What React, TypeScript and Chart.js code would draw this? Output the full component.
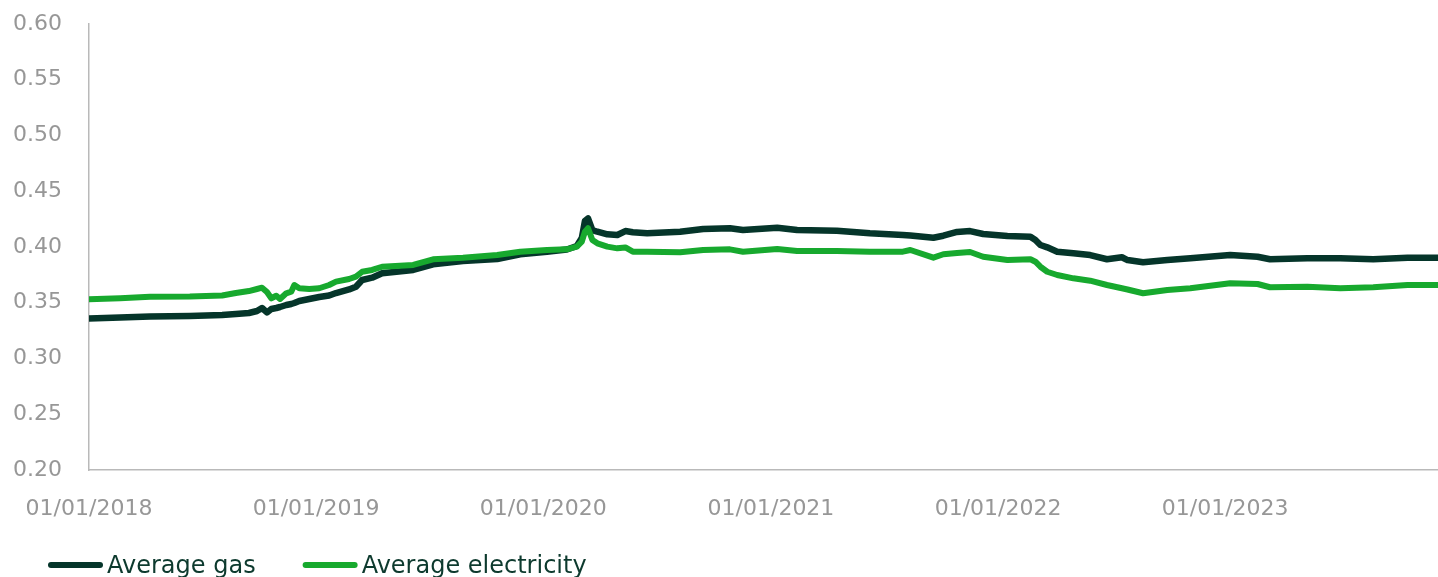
import React, { useEffect, useRef } from "react";
import { Chart, registerables } from "chart.js";

Chart.register(...registerables);

// Observation dates for both series
const dates = [
  "2018-01-01", "2018-02-20", "2018-04-09", "2018-06-12", "2018-08-03", "2018-08-25",
  "2018-09-15", "2018-09-28", "2018-10-06", "2018-10-14", "2018-10-21", "2018-10-29",
  "2018-11-04", "2018-11-14", "2018-11-22", "2018-11-27", "2018-12-05", "2018-12-21",
  "2019-01-06", "2019-01-22", "2019-02-02", "2019-02-23", "2019-03-06", "2019-03-16",
  "2019-04-01", "2019-04-17", "2019-06-06", "2019-07-08", "2019-08-25", "2019-10-19",
  "2019-11-25", "2020-01-07", "2020-02-08", "2020-02-24", "2020-03-03", "2020-03-08",
  "2020-03-13", "2020-03-20", "2020-03-28", "2020-04-13", "2020-04-29", "2020-05-12",
  "2020-05-24", "2020-06-16", "2020-08-08", "2020-09-14", "2020-10-27", "2020-11-17",
  "2021-01-11", "2021-02-12", "2021-04-17", "2021-06-09", "2021-08-01", "2021-08-13",
  "2021-09-19", "2021-10-05", "2021-10-27", "2021-11-17", "2021-12-08", "2022-01-16",
  "2022-02-22", "2022-03-02", "2022-03-10", "2022-03-21", "2022-04-06", "2022-05-02",
  "2022-05-29", "2022-06-25", "2022-07-19", "2022-07-28", "2022-08-22", "2022-09-30",
  "2022-11-06", "2023-01-09", "2023-02-22", "2023-03-14", "2023-05-13", "2023-07-05",
  "2023-08-27", "2023-10-21", "2023-12-09",
];

const gasValues = [
  0.3359, 0.3368, 0.3377, 0.3381, 0.3390, 0.3399,
  0.3408, 0.3426, 0.3453, 0.3413, 0.3444, 0.3453,
  0.3462, 0.3480, 0.3489, 0.3498, 0.3516, 0.3534,
  0.3552, 0.3565, 0.3587, 0.3619, 0.3644, 0.3704,
  0.3725, 0.3764, 0.3794, 0.3845, 0.3874, 0.3892,
  0.3935, 0.3958, 0.3978, 0.4009, 0.4081, 0.4233,
  0.4257, 0.4152, 0.4137, 0.4114, 0.4108, 0.4143,
  0.4132, 0.4123, 0.4137, 0.4161, 0.4168, 0.4152,
  0.4173, 0.4152, 0.4146, 0.4123, 0.4108, 0.4103,
  0.4083, 0.4101, 0.4135, 0.4143, 0.4117, 0.4099,
  0.4092, 0.4063, 0.4018, 0.3997, 0.3958, 0.3943,
  0.3928, 0.3890, 0.3908, 0.3883, 0.3863, 0.3883,
  0.3899, 0.3928, 0.3913, 0.3890, 0.3899, 0.3899,
  0.3890, 0.3904, 0.3904,
];

const electricityValues = [
  0.3531, 0.3540, 0.3554, 0.3556, 0.3565, 0.3587,
  0.3605, 0.3623, 0.3635, 0.3596, 0.3540, 0.3563,
  0.3534, 0.3585, 0.3599, 0.3659, 0.3630, 0.3623,
  0.3630, 0.3659, 0.3689, 0.3713, 0.3734, 0.3778,
  0.3794, 0.3823, 0.3839, 0.3890, 0.3904, 0.3928,
  0.3958, 0.3973, 0.3979, 0.4003, 0.4048, 0.4137,
  0.4168, 0.4063, 0.4033, 0.4003, 0.3988, 0.3996,
  0.3958, 0.3958, 0.3952, 0.3973, 0.3979, 0.3958,
  0.3982, 0.3964, 0.3964, 0.3958, 0.3958, 0.3973,
  0.3904, 0.3935, 0.3946, 0.3955, 0.3913, 0.3883,
  0.3890, 0.3868, 0.3823, 0.3778, 0.3749, 0.3719,
  0.3698, 0.3659, 0.3630, 0.3619, 0.3585, 0.3614,
  0.3630, 0.3675, 0.3668, 0.3639, 0.3644, 0.3630,
  0.3639, 0.3659, 0.3659,
];

const xTickDates = ["2018-01-01", "2019-01-01", "2020-01-01", "2021-01-01", "2022-01-01", "2023-01-01"];
const xTickLabels = ["01/01/2018", "01/01/2019", "01/01/2020", "01/01/2021", "01/01/2022", "01/01/2023"];

const GAS_COLOR = "#05352a";
const ELEC_COLOR = "#17a92e";
const LEGEND_TEXT = "#0d3a2e";
const TICK_COLOR = "#979797";
const AXIS_COLOR = "#b9b9b9";
const FONT = '"DejaVu Sans", sans-serif';

const ORIGIN = Date.UTC(2018, 0, 1);
const dayOf = (iso: string): number => {
  const [y, m, d] = iso.split("-").map(Number);
  return Math.round((Date.UTC(y, m - 1, d) - ORIGIN) / 86400000);
};

const toPoints = (values: number[]) => values.map((v, i) => ({ x: dayOf(dates[i]), y: v }));

// Legend drawn as short rounded strokes followed by the series name
const lineLegend = {
  id: "lineLegend",
  afterDraw(chart: any) {
    const ctx: CanvasRenderingContext2D = chart.ctx;
    const lineLen = 49;
    const lineW = 6;
    const y = 565;
    let x = 51;
    ctx.save();
    ctx.font = `24px ${FONT}`;
    ctx.textBaseline = "alphabetic";
    ctx.textAlign = "left";
    chart.data.datasets.forEach((ds: any) => {
      ctx.strokeStyle = ds.borderColor;
      ctx.lineWidth = lineW;
      ctx.lineCap = "round";
      ctx.beginPath();
      ctx.moveTo(x, y);
      ctx.lineTo(x + lineLen, y);
      ctx.stroke();
      const tx = x + lineLen + 7;
      ctx.fillStyle = LEGEND_TEXT;
      ctx.fillText(ds.label, tx, 573);
      x = tx + ctx.measureText(ds.label).width + 50;
    });
    ctx.restore();
  },
};

export default function App() {
  const canvasRef = useRef<HTMLCanvasElement | null>(null);

  useEffect(() => {
    if (!canvasRef.current) return;
    const chart = new Chart(canvasRef.current, {
      type: "line",
      data: {
        datasets: [
          {
            label: "Average gas",
            data: toPoints(gasValues),
            borderColor: GAS_COLOR,
            backgroundColor: GAS_COLOR,
            borderWidth: 6.5,
            pointRadius: 0,
            tension: 0,
            borderCapStyle: "round",
            borderJoinStyle: "round",
            order: 1,
          },
          {
            label: "Average electricity",
            data: toPoints(electricityValues),
            borderColor: ELEC_COLOR,
            backgroundColor: ELEC_COLOR,
            borderWidth: 6,
            pointRadius: 0,
            tension: 0,
            borderCapStyle: "round",
            borderJoinStyle: "round",
            order: 0,
          },
        ],
      },
      options: {
        responsive: false,
        animation: false,
        events: [],
        layout: { padding: { top: 24, left: 0, right: 0, bottom: 0 } },
        plugins: {
          legend: { display: false },
          tooltip: { enabled: false },
        },
        scales: {
          x: {
            type: "linear",
            min: 0,
            max: dayOf(dates[dates.length - 1]),
            grid: { display: false, drawTicks: false },
            border: { display: true, color: AXIS_COLOR, width: 1.5 },
            afterBuildTicks: (scale: any) => {
              scale.ticks = xTickDates.map((d) => ({ value: dayOf(d) }));
            },
            afterFit: (scale: any) => {
              scale.height = 107;
              scale.paddingLeft = 0;
              scale.paddingRight = 0;
            },
            ticks: {
              autoSkip: false,
              maxRotation: 0,
              padding: 26,
              color: TICK_COLOR,
              font: { family: FONT, size: 22 },
              callback: (_v: any, i: number) => xTickLabels[i],
            },
          },
          y: {
            min: 0.2,
            max: 0.6,
            grid: { display: false, drawTicks: false },
            border: { display: true, color: AXIS_COLOR, width: 1.5 },
            afterFit: (scale: any) => {
              scale.width = 89;
              scale.paddingTop = 0;
              scale.paddingBottom = 0;
            },
            ticks: {
              stepSize: 0.05,
              padding: 27,
              color: TICK_COLOR,
              font: { family: FONT, size: 22 },
              callback: (v: any) => Number(v).toFixed(2),
            },
          },
        },
      },
      plugins: [lineLegend],
    } as any);
    return () => chart.destroy();
  }, []);

  return (
    <div style={{ position: "absolute", left: 0, top: 0, width: 1438, height: 577 }}>
      <canvas ref={canvasRef} width={1438} height={577} style={{ display: "block" }} />
    </div>
  );
}
